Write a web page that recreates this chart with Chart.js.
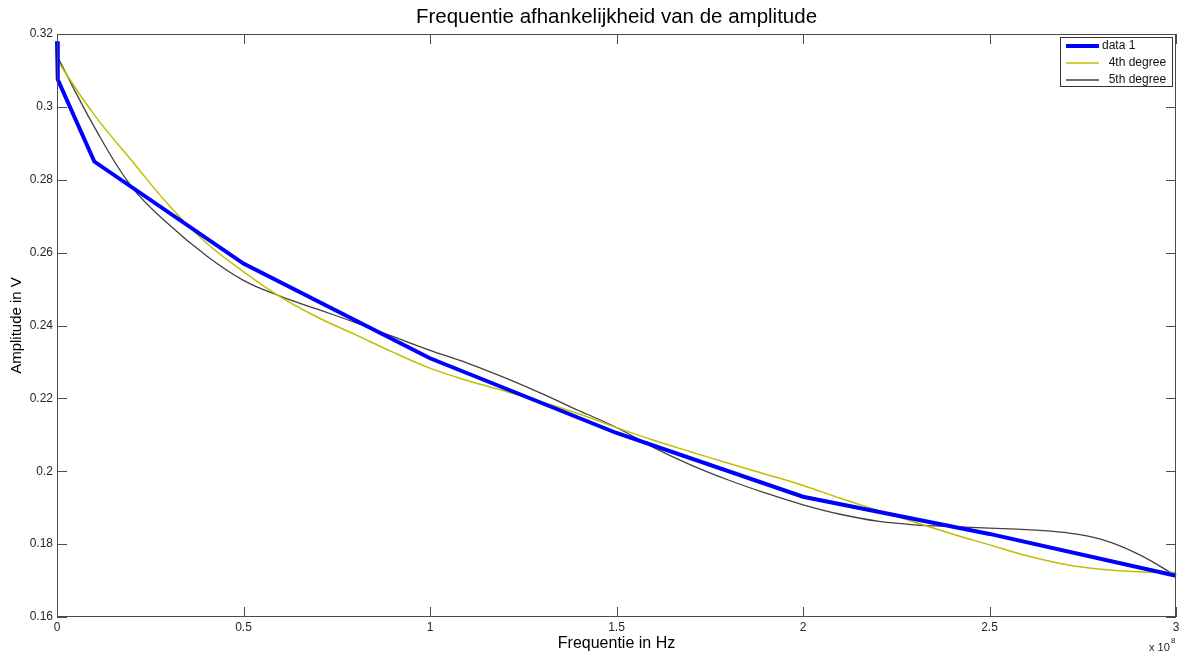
<!DOCTYPE html>
<html>
<head>
<meta charset="utf-8">
<title>Frequentie afhankelijkheid van de amplitude</title>
<script src="https://cdn.jsdelivr.net/npm/chart.js@4.4.1/dist/chart.umd.min.js"></script>
<style>
  html, body { margin: 0; padding: 0; background: #fff; }
  #wrap { width: 1180px; height: 657px; position: relative; }
</style>
</head>
<body>
<div id="wrap"><canvas id="chart"></canvas></div>
<script>
// measured amplitude (V) against frequency (in units of 1e8 Hz)
const measFreq = [0, 0.002, 0.1, 0.5, 1.0, 1.5, 2.0, 2.5, 3.0];
const measAmp = [0.318, 0.3075, 0.285, 0.257, 0.231, 0.2105, 0.193, 0.1828, 0.1713];

// polynomial fits, sampled along the frequency axis
const fitFreq = [0, 0.1, 0.2, 0.3, 0.4, 0.5, 0.6, 0.7, 0.8, 0.9, 1.0,
  1.1, 1.2, 1.3, 1.4, 1.5, 1.6, 1.7, 1.8, 1.9, 2.0,
  2.1, 2.2, 2.3, 2.4, 2.5, 2.6, 2.7, 2.8, 2.9, 3.0];
const fit4th = [0.3128, 0.2978, 0.2853, 0.2730, 0.2627, 0.2548, 0.2478, 0.2422, 0.2375, 0.2327, 0.2283,
  0.2249, 0.2220, 0.2190, 0.2157, 0.2120, 0.2085, 0.2053, 0.2022, 0.1992, 0.1961,
  0.1926, 0.1893, 0.1860, 0.1828, 0.1798, 0.1768, 0.1745, 0.1731, 0.1724, 0.1722];
const fit5th = [0.3140, 0.2945, 0.2781, 0.2677, 0.2592, 0.2524, 0.2480, 0.2444, 0.2408, 0.2370, 0.2332,
  0.2297, 0.2257, 0.2213, 0.2166, 0.2120, 0.2065, 0.2017, 0.1976, 0.1940, 0.1908,
  0.1882, 0.1863, 0.1853, 0.1848, 0.1844, 0.1840, 0.1832, 0.1813, 0.1772, 0.1713];

const xTicks = [0, 0.5, 1, 1.5, 2, 2.5, 3];
const yTicks = [0.16, 0.18, 0.2, 0.22, 0.24, 0.26, 0.28, 0.3, 0.32];

const FONT = 'Arial, "Liberation Sans", Helvetica, sans-serif';
const pts = (xs, ys) => xs.map((v, i) => ({ x: v, y: ys[i] }));

// MATLAB-like box with inward ticks on all four sides
const axesBox = {
  id: 'axesBox',
  afterDatasetsDraw(chart) {
    const { ctx, chartArea: a, scales: { x, y } } = chart;
    const L = 10;
    ctx.save();
    ctx.lineWidth = 1;
    ctx.strokeStyle = '#4a4a4a';
    ctx.strokeRect(a.left + 0.5, a.top + 0.5, a.right - a.left - 1, a.bottom - a.top - 1);
    ctx.beginPath();
    xTicks.forEach(v => {
      const px = Math.round(x.getPixelForValue(v)) + 0.5;
      ctx.moveTo(px, a.bottom); ctx.lineTo(px, a.bottom - L);
      ctx.moveTo(px, a.top); ctx.lineTo(px, a.top + L);
    });
    yTicks.forEach(v => {
      const py = Math.round(y.getPixelForValue(v)) + 0.5;
      ctx.moveTo(a.left, py); ctx.lineTo(a.left + L, py);
      ctx.moveTo(a.right, py); ctx.lineTo(a.right - L, py);
    });
    ctx.stroke();

    // axis multiplier under the last x tick
    ctx.fillStyle = '#262626';
    ctx.textBaseline = 'alphabetic';
    ctx.textAlign = 'left';
    ctx.font = '11px ' + FONT;
    ctx.fillText('x 10', a.right - 27, a.bottom + 34);
    ctx.font = '8px ' + FONT;
    ctx.fillText('8', a.right - 5, a.bottom + 26);
    ctx.restore();
  }
};

// boxed legend in the upper right corner
const boxLegend = {
  id: 'boxLegend',
  afterDraw(chart) {
    const { ctx, chartArea: a } = chart;
    const left = a.right - 116, top = a.top + 3, w = 113, h = 50;
    ctx.save();
    ctx.fillStyle = '#fff';
    ctx.fillRect(left, top, w, h);
    ctx.strokeStyle = '#333';
    ctx.lineWidth = 1;
    ctx.strokeRect(left + 0.5, top + 0.5, w - 1, h - 1);
    ctx.font = '12px ' + FONT;
    ctx.textBaseline = 'middle';
    ctx.textAlign = 'left';
    chart.data.datasets.forEach((ds, i) => {
      const yy = top + 9 + i * 17;
      ctx.beginPath();
      ctx.strokeStyle = ds.borderColor;
      ctx.lineWidth = ds.borderWidth;
      ctx.moveTo(left + 6, yy);
      ctx.lineTo(left + 39, yy);
      ctx.stroke();
      ctx.fillStyle = '#111';
      ctx.fillText(ds.label, left + 42, yy);
    });
    ctx.restore();
  }
};

new Chart(document.getElementById('chart'), {
  type: 'scatter',
  data: {
    datasets: [
      {
        label: 'data 1',
        data: pts(measFreq, measAmp),
        showLine: true,
        borderColor: '#0000ff',
        backgroundColor: '#0000ff',
        borderWidth: 4,
        pointRadius: 0,
        tension: 0,
        clip: false
      },
      {
        label: '  4th degree',
        data: pts(fitFreq, fit4th),
        showLine: true,
        borderColor: '#bfbf00',
        backgroundColor: '#bfbf00',
        borderWidth: 1.5,
        pointRadius: 0,
        tension: 0.4
      },
      {
        label: '  5th degree',
        data: pts(fitFreq, fit5th),
        showLine: true,
        borderColor: '#404040',
        backgroundColor: '#404040',
        borderWidth: 1.3,
        pointRadius: 0,
        tension: 0.4
      }
    ]
  },
  options: {
    responsive: true,
    maintainAspectRatio: false,
    animation: false,
    layout: { padding: { left: 0, right: 4, top: 0, bottom: 0 } },
    plugins: {
      legend: { display: false },
      tooltip: { enabled: false },
      title: {
        display: true,
        fullSize: false,
        text: 'Frequentie afhankelijkheid van de amplitude',
        color: '#000',
        font: { family: FONT, size: 20.5, weight: 'normal' },
        padding: { top: 5, bottom: 4.4 }
      }
    },
    scales: {
      x: {
        type: 'linear',
        min: 0,
        max: 3,
        afterBuildTicks: s => { s.ticks = xTicks.map(v => ({ value: v })); },
        afterFit: s => { s.height = 40; s.paddingLeft = 0; s.paddingRight = 0; },
        grid: { display: false, drawTicks: false },
        border: { display: false },
        ticks: {
          color: '#262626',
          padding: 3,
          maxRotation: 0,
          font: { family: FONT, size: 12 },
          callback: v => String(+v.toFixed(2))
        },
        title: {
          display: true,
          text: 'Frequentie in Hz',
          color: '#000',
          font: { family: FONT, size: 16 },
          padding: { top: 0, bottom: 4 }
        }
      },
      y: {
        type: 'linear',
        min: 0.16,
        max: 0.32,
        afterBuildTicks: s => { s.ticks = yTicks.map(v => ({ value: v })); },
        afterFit: s => { s.width = 57; s.paddingTop = 0; s.paddingBottom = 0; },
        grid: { display: false, drawTicks: false },
        border: { display: false },
        ticks: {
          color: '#262626',
          padding: 4,
          font: { family: FONT, size: 12 },
          callback: v => String(+v.toFixed(2))
        },
        title: {
          display: true,
          text: 'Amplitude in V',
          color: '#000',
          font: { family: FONT, size: 15 },
          padding: { top: 8, bottom: 0 }
        }
      }
    }
  },
  plugins: [axesBox, boxLegend]
});
</script>
</body>
</html>
